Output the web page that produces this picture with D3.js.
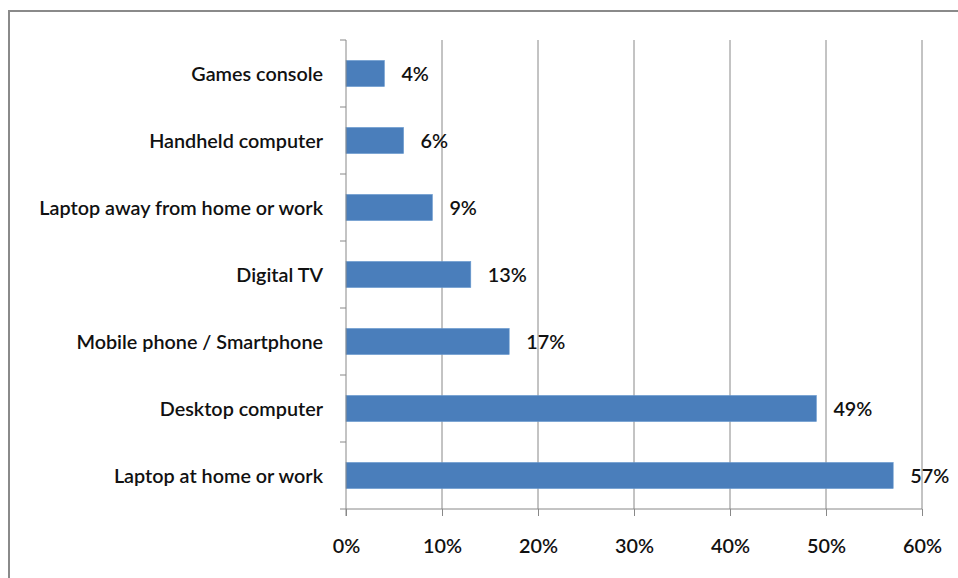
<!DOCTYPE html>
<html>
<head>
<meta charset="utf-8">
<script src="https://cdn.jsdelivr.net/npm/d3@7/dist/d3.min.js"></script>
<style>
  html, body { margin: 0; padding: 0; background: #fff; }
  svg { display: block; }
  text { font-family: Lato, "Open Sans", sans-serif; fill: #111; }
</style>
</head>
<body>
<svg id="chart" width="958" height="578"></svg>
<script>
// Devices used to go online, share of respondents (%)
const categories = [
  "Games console",
  "Handheld computer",
  "Laptop away from home or work",
  "Digital TV",
  "Mobile phone / Smartphone",
  "Desktop computer",
  "Laptop at home or work"
];
const values = [4, 6, 9, 13, 17, 49, 57];
const tickValues = [0, 10, 20, 30, 40, 50, 60];

const FONT_SIZE = 19.8;
const svg = d3.select("#chart");

// Outer chart frame
svg.append("rect")
  .attr("x", 9).attr("y", 11)
  .attr("width", 980).attr("height", 600)
  .attr("fill", "none")
  .attr("stroke", "#8a8a8a")
  .attr("stroke-width", 2);

const plot = { left: 346, right: 922, top: 40, bottom: 509 };

const x = d3.scaleLinear().domain([0, 60]).range([plot.left, plot.right]);
const y = d3.scaleBand().domain(categories).range([plot.top, plot.bottom])
  .paddingInner(0.61).paddingOuter(0.305);

// Vertical gridlines
svg.append("g")
  .selectAll("line")
  .data(tickValues.slice(1))
  .join("line")
  .attr("x1", d => x(d)).attr("x2", d => x(d))
  .attr("y1", plot.top).attr("y2", plot.bottom)
  .attr("stroke", "#888")
  .attr("stroke-width", 1);

// Bars
svg.append("g")
  .selectAll("rect")
  .data(values)
  .join("rect")
  .attr("x", x(0))
  .attr("y", (d, i) => y(categories[i]))
  .attr("width", d => x(d) - x(0))
  .attr("height", y.bandwidth())
  .attr("fill", "#4a7ebb")
  .attr("stroke", "#6b9bd0")
  .attr("stroke-width", 0.6);

// Value labels
svg.append("g")
  .selectAll("text")
  .data(values)
  .join("text")
  .attr("x", d => x(d) + 17)
  .attr("y", (d, i) => y(categories[i]) + y.bandwidth() / 2 + 7)
  .attr("font-size", FONT_SIZE)
  .attr("font-weight", 600)
  .text(d => d + "%");

// Category axis (left) with tick marks on band boundaries
const yAxisG = svg.append("g");
yAxisG.append("line")
  .attr("x1", plot.left).attr("x2", plot.left)
  .attr("y1", plot.top).attr("y2", plot.bottom + 7)
  .attr("stroke", "#888");
const step = (plot.bottom - plot.top) / categories.length;
yAxisG.selectAll("line.tick")
  .data(d3.range(categories.length + 1))
  .join("line")
  .attr("class", "tick")
  .attr("x1", plot.left - 6).attr("x2", plot.left)
  .attr("y1", i => plot.top + i * step).attr("y2", i => plot.top + i * step)
  .attr("stroke", "#888");
yAxisG.selectAll("text")
  .data(categories)
  .join("text")
  .attr("x", 323)
  .attr("y", d => y(d) + y.bandwidth() / 2 + 7)
  .attr("text-anchor", "end")
  .attr("font-size", FONT_SIZE)
  .attr("font-weight", 600)
  .text(d => d);

// Value axis (bottom)
const xAxis = d3.axisBottom(x)
  .tickValues(tickValues)
  .tickSize(7)
  .tickPadding(23)
  .tickFormat(d => d + "%");
const xAxisG = svg.append("g")
  .attr("transform", `translate(0,${plot.bottom})`)
  .call(xAxis);
xAxisG.select(".domain").attr("stroke", "#888").attr("d", `M${plot.left},0H${plot.right}`);
xAxisG.selectAll(".tick line").attr("stroke", "#888");
xAxisG.selectAll(".tick text")
  .attr("font-size", FONT_SIZE)
  .attr("font-weight", 600)
  .attr("font-family", "Lato, 'Open Sans', sans-serif")
  .attr("fill", "#111");
</script>
</body>
</html>
